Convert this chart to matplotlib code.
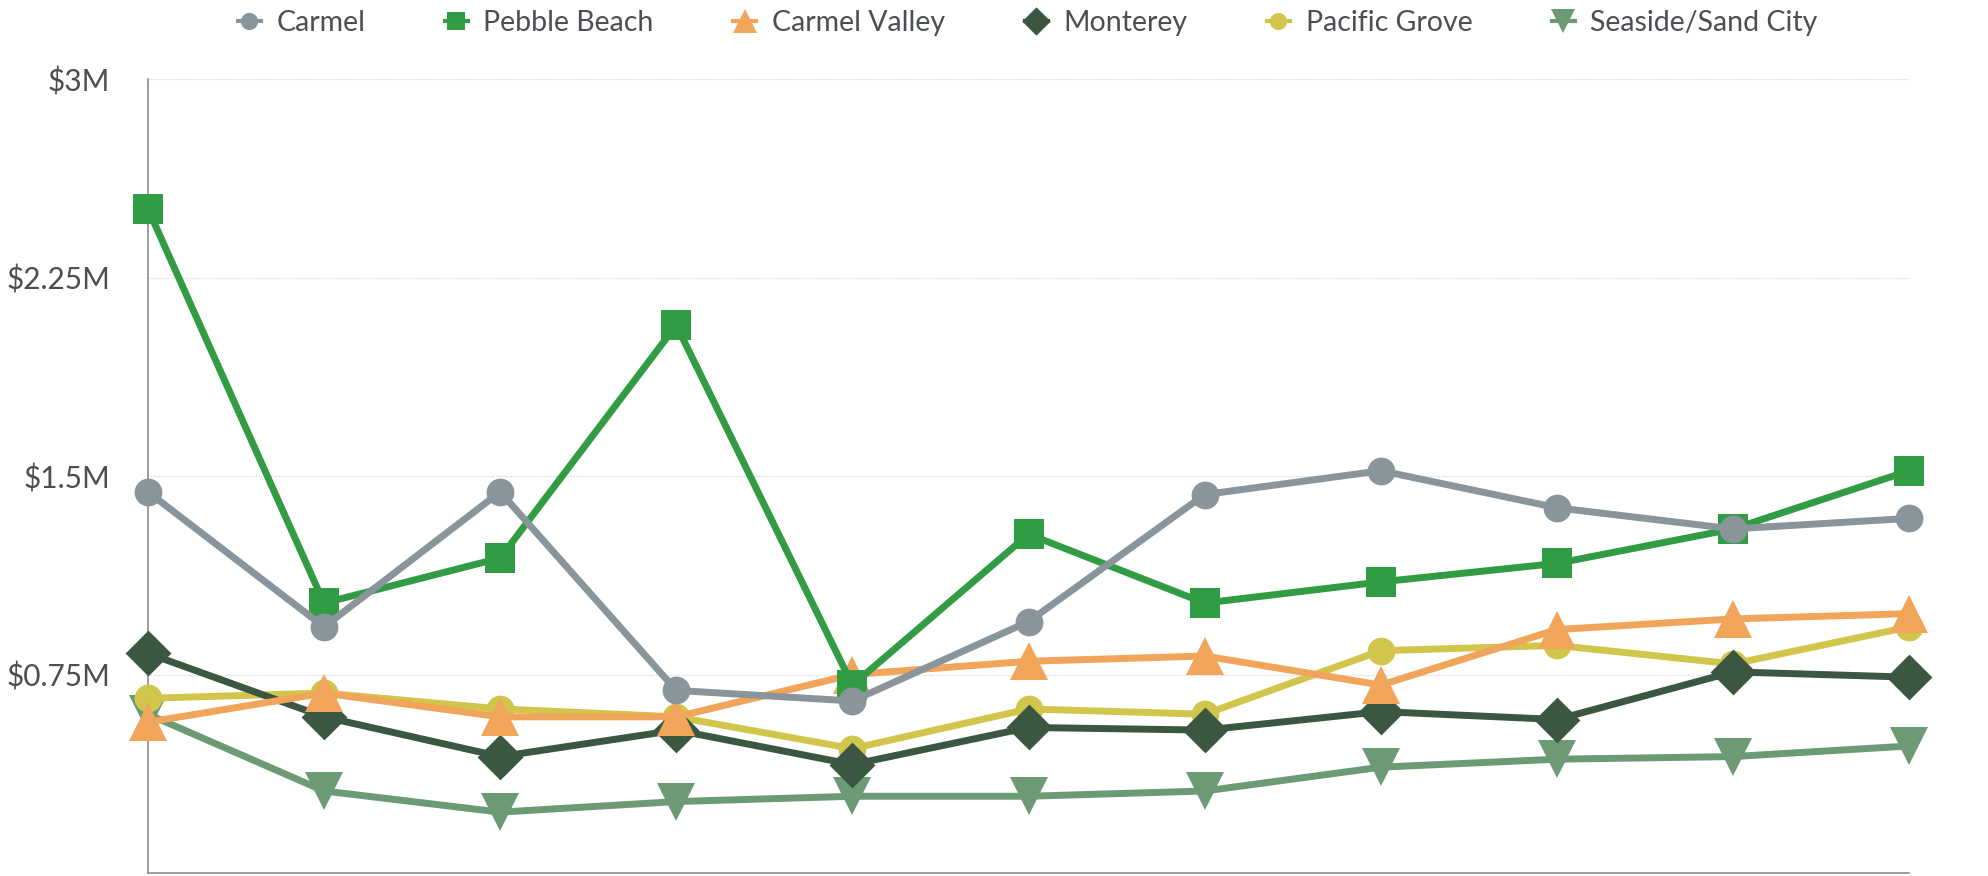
import matplotlib.pyplot as plt
from matplotlib.path import Path
from matplotlib.ticker import FixedLocator, FuncFormatter

# values in $M (11 periods, no x labels shown)
periods = list(range(11))
carmel = [1.44, 0.93, 1.44, 0.69, 0.65, 0.95, 1.43, 1.52, 1.38, 1.30, 1.34]
pebble_beach = [2.51, 1.02, 1.19, 2.07, 0.71, 1.28, 1.02, 1.10, 1.17, 1.30, 1.52]
carmel_valley = [0.57, 0.68, 0.59, 0.59, 0.75, 0.80, 0.82, 0.71, 0.92, 0.96, 0.98]
monterey = [0.83, 0.59, 0.44, 0.54, 0.41, 0.55, 0.54, 0.61, 0.58, 0.76, 0.74]
pacific_grove = [0.66, 0.68, 0.62, 0.59, 0.47, 0.62, 0.60, 0.84, 0.86, 0.79, 0.93]
seaside = [0.60, 0.31, 0.23, 0.27, 0.29, 0.29, 0.31, 0.40, 0.43, 0.44, 0.48]

y_ticks = [0.75, 1.5, 2.25, 3.0]
y_labels = ["$0.75M", "$1.5M", "$2.25M", "$3M"]

DIAMOND = Path([(0, 1), (1, 0), (0, -1), (-1, 0), (0, 1)],
               [Path.MOVETO, Path.LINETO, Path.LINETO, Path.LINETO, Path.CLOSEPOLY])

SERIES = [
    ("Carmel",            carmel,        "#8a949b", "o",     20),
    ("Pebble Beach",      pebble_beach,  "#329c44", "s",     22),
    ("Carmel Valley",     carmel_valley, "#f0a55a", "^",     28),
    ("Monterey",          monterey,      "#3b5741", DIAMOND, 33),
    ("Pacific Grove",     pacific_grove, "#d1c64b", "o",     20),
    ("Seaside/Sand City", seaside,       "#6b9a74", "v",     28),
]

plt.rcParams["font.family"] = ["Lato", "DejaVu Sans"]

fig = plt.figure(figsize=(19.88, 8.76), dpi=100)
ax = fig.add_axes([0.0744, 0.0034, 0.886, 0.9064])

n = len(SERIES)
for i, (label, vals, color, marker, ms) in enumerate(SERIES):
    ax.plot(periods, vals, color=color, lw=5.0, marker=marker, ms=ms,
            markeredgewidth=0, label=label, zorder=10 + n - i, clip_on=False)

ax.set_xlim(0, 10)
ax.set_ylim(0, 3)
ax.set_xticks([])
ax.yaxis.set_major_locator(FixedLocator(y_ticks))
ax.yaxis.set_major_formatter(FuncFormatter(lambda v, p: y_labels[y_ticks.index(v)] if v in y_ticks else ""))
ax.tick_params(axis="y", length=0, pad=27, labelsize=21.5, labelcolor="#4b4e53")
for lab in ax.get_yticklabels():
    lab.set_verticalalignment("center_baseline")

ax.grid(axis="y", color="#d6d6d6", lw=0.9, ls=(0, (1, 1)))
ax.set_axisbelow(True)
for s in ("top", "right"):
    ax.spines[s].set_visible(False)
for s in ("left", "bottom"):
    ax.spines[s].set_color("#8c8c8c")
    ax.spines[s].set_linewidth(1.2)

leg = fig.legend(loc="center", bbox_to_anchor=(0.517, 0.974), ncol=6, frameon=False,
                 fontsize=20.5, markerscale=0.62, handlelength=0.8, handletextpad=0.55,
                 columnspacing=2.8, labelcolor="#4b4e53")
for h in leg.legend_handles:
    h.set_linewidth(3)

fig.savefig("out.png", dpi=100)
